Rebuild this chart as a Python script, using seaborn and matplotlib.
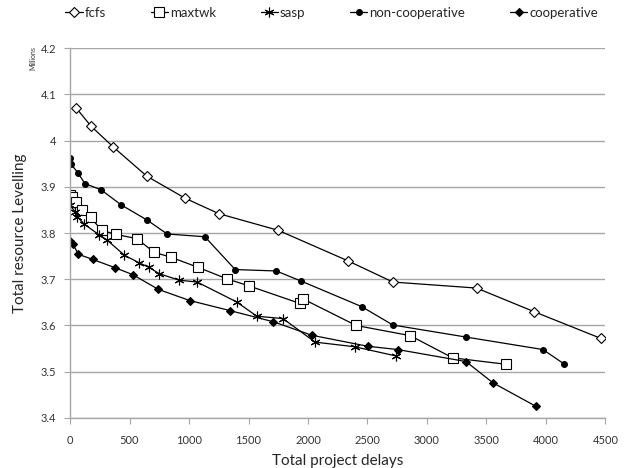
import pandas as pd
import seaborn as sns
import matplotlib.pyplot as plt

# values (y in millions)
fcfs_x = [50, 177, 364, 645, 970, 1250, 1749, 2335, 2714, 3417, 3900, 4463]
fcfs_y = [4.071, 4.031, 3.986, 3.923, 3.875, 3.842, 3.806, 3.740, 3.694, 3.681, 3.630, 3.572]

maxtwk_x = [0, 15, 50, 98, 172, 265, 387, 560, 709, 845, 1074, 1318, 1500, 1929, 1962, 2405, 2860, 3216, 3667]
maxtwk_y = [3.882, 3.879, 3.867, 3.849, 3.834, 3.806, 3.797, 3.788, 3.758, 3.748, 3.726, 3.701, 3.686,
            3.648, 3.657, 3.600, 3.578, 3.530, 3.516]

sasp_x = [0, 42, 62, 120, 245, 310, 457, 577, 662, 750, 918, 1068, 1400, 1570, 1789, 2060, 2392, 2742]
sasp_y = [3.860, 3.846, 3.835, 3.819, 3.796, 3.785, 3.752, 3.736, 3.726, 3.712, 3.698, 3.694, 3.651,
          3.620, 3.615, 3.564, 3.554, 3.534]

noncoop_x = [0, 5, 67, 124, 258, 429, 648, 816, 1133, 1388, 1733, 1943, 2450, 2714, 3328, 3975, 4152]
noncoop_y = [3.963, 3.950, 3.930, 3.907, 3.894, 3.861, 3.828, 3.798, 3.792, 3.721, 3.718, 3.696, 3.641,
             3.601, 3.575, 3.548, 3.517]

coop_x = [0, 22, 70, 190, 378, 527, 743, 1006, 1348, 1710, 2030, 2503, 2753, 3328, 3555, 3917]
coop_y = [3.783, 3.777, 3.754, 3.743, 3.725, 3.710, 3.678, 3.654, 3.632, 3.608, 3.579, 3.555, 3.548,
          3.522, 3.476, 3.425]

series = [
    ("fcfs", fcfs_x, fcfs_y, dict(marker="D", markersize=5, markerfacecolor="white")),
    ("maxtwk", maxtwk_x, maxtwk_y, dict(marker="s", markersize=6.5, markerfacecolor="white")),
    ("sasp", sasp_x, sasp_y, dict(marker=(6, 2, 0), markersize=7)),
    ("non-cooperative", noncoop_x, noncoop_y, dict(marker="o", markersize=4.2)),
    ("cooperative", coop_x, coop_y, dict(marker="D", markersize=4)),
]

sns.set_style("white")
plt.rcParams["font.family"] = ["Lato", "DejaVu Sans"]

fig = plt.figure(figsize=(6.26, 4.68), dpi=100)
ax = fig.add_axes([0.112, 0.107, 0.855, 0.79])

for name, xs, ys, style in series:
    df = pd.DataFrame({"x": xs, "y": ys})
    sns.lineplot(data=df, x="x", y="y", ax=ax, sort=False, estimator=None,
                 color="black", linewidth=0.9, markeredgecolor="black",
                 markeredgewidth=0.8, label=name, **style)

ax.set_xlim(0, 4500)
ax.set_ylim(3.4, 4.2)
ax.set_xticks(range(0, 4501, 500))
ax.set_yticks([3.4, 3.5, 3.6, 3.7, 3.8, 3.9, 4.0, 4.1, 4.2])
ax.set_yticklabels(["3.4", "3.5", "3.6", "3.7", "3.8", "3.9", "4", "4.1", "4.2"])
ax.yaxis.grid(True, color="#a6a6a6", linewidth=1)
ax.xaxis.grid(False)
for s in ["top", "right"]:
    ax.spines[s].set_visible(False)
for s in ["left", "bottom"]:
    ax.spines[s].set_color("#a6a6a6")
    ax.spines[s].set_linewidth(1)
ax.tick_params(axis="both", which="both", direction="out", length=4, color="#a6a6a6",
               labelsize=8, labelcolor="#333333", pad=6)
ax.tick_params(axis="x", bottom=True, pad=8)
ax.tick_params(axis="y", left=True)

ax.set_xlabel("Total project delays", fontsize=11, labelpad=6)
ax.set_ylabel("Total resource Levelling", fontsize=11, labelpad=10)
fig.text(0.052, 0.875, "Millions", rotation=90, fontsize=5, ha="center", va="center", color="#333333")

handles, labels = ax.get_legend_handles_labels()
ax.get_legend().remove()
fig.legend(handles, labels, loc="center", bbox_to_anchor=(0.53, 0.972), ncol=5, frameon=False,
           fontsize=9.5, handlelength=1.3, handletextpad=0.15, columnspacing=3.4)

fig.savefig("out.png", dpi=100)
